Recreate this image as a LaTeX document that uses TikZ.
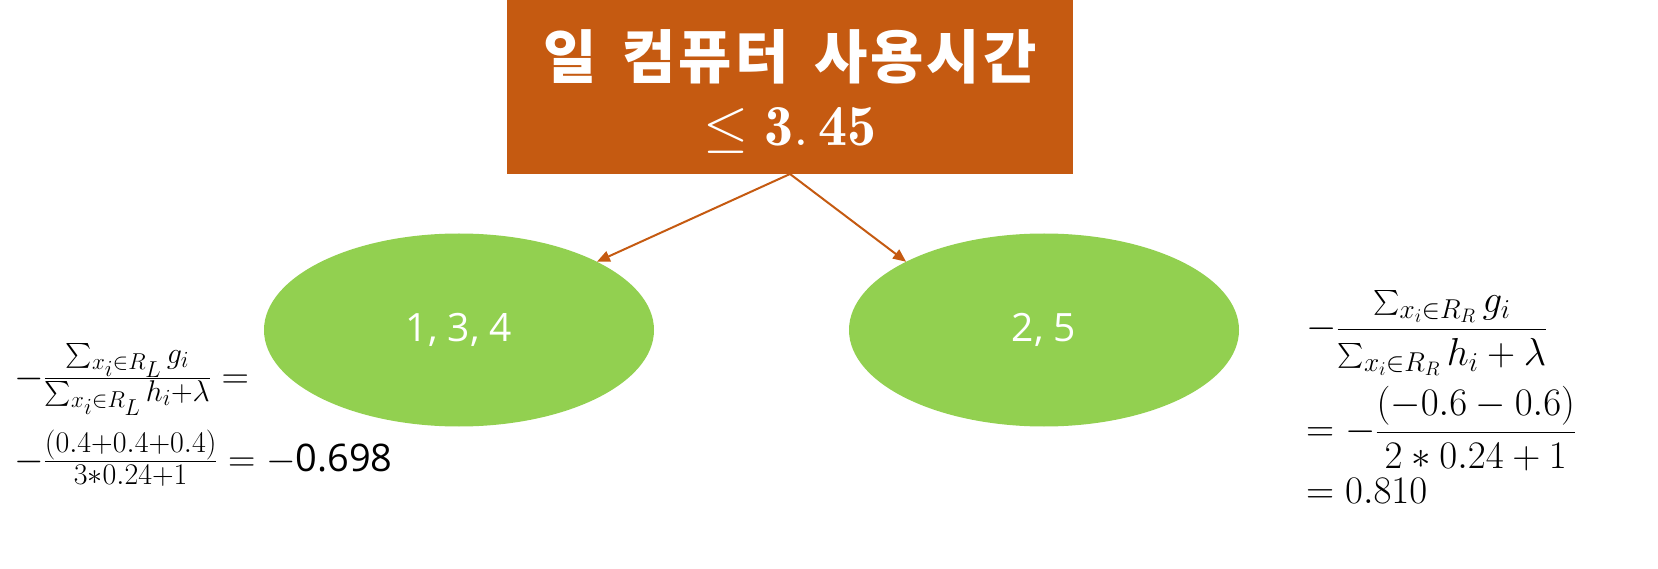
\RequirePackage{fix-cm}
\documentclass[tikz,border=0pt]{standalone}
\usepackage{amsmath}
\usepackage{fontspec}
\newfontfamily\kofont{Noto Sans CJK KR}[LetterSpace=5, WordSpace=1.6]
\newfontfamily\labelfont{Open Sans}
\usetikzlibrary{arrows.meta,positioning,shapes.geometric}
\definecolor{splitorange}{HTML}{C55A11}
\definecolor{leafgreen}{HTML}{92D050}
\setlength{\lineskiplimit}{-100pt}
\DeclareMathSizes{38}{38}{30}{23}

\begin{document}
\begin{tikzpicture}[
    x=1pt, y=-1pt,
    splitbox/.style={fill=splitorange, text=white, align=center,
      minimum width=566pt, minimum height=174pt, inner sep=0pt, outer sep=0pt},
    leaf/.style={ellipse, fill=leafgreen, text=white, minimum width=390pt,
      minimum height=193pt, inner sep=0pt, outer sep=0pt,
      font=\labelfont\fontsize{39}{44}\selectfont},
    calc/.style={align=left, inner sep=0pt, anchor=north west},
    arrow/.style={-{Triangle[length=13pt,width=11pt]}, line width=2pt, draw=splitorange}
  ]
    \useasboundingbox (0,0) rectangle (1658,569);
    \node[splitbox, font=\fontsize{58}{67}\selectfont] (split) at (790,87)
      {\rule{0pt}{57pt}{\kofont\bfseries 일 컴퓨터 사용시간}\\ $\leq\mathbf{3.\,45}$};
    \node[leaf] (left) at (459,330) {1, 3, 4};
    \node[leaf, right=195pt of left] (right) {2, 5};
    \draw[arrow] (split.south) -- (left.north east);
    \draw[arrow] (split.south) -- (right.north west);
    % gain of the left leaf
    \node[calc, font=\fontsize{38}{83}\selectfont] (lcalc) at (14,343)
      {$-\frac{\sum_{x_i\in R_L} g_i}{\sum_{x_i\in R_L} h_i+\lambda}=$\\
       $-\frac{(0.4+0.4+0.4)}{3\ast0.24+1}=-${\labelfont 0.698}};
    % gain of the right leaf
    \node[calc, font=\fontsize{39}{103}\selectfont] (rcalc) at (1306,290)
      {$-\dfrac{\sum_{x_i\in R_R} g_i}{\sum_{x_i\in R_R} h_i+\lambda}$\\
       $=-\dfrac{(-0.6-0.6)}{2\ast0.24+1}$\\[-41pt]
       $=0.810$};
\end{tikzpicture}
\end{document}
